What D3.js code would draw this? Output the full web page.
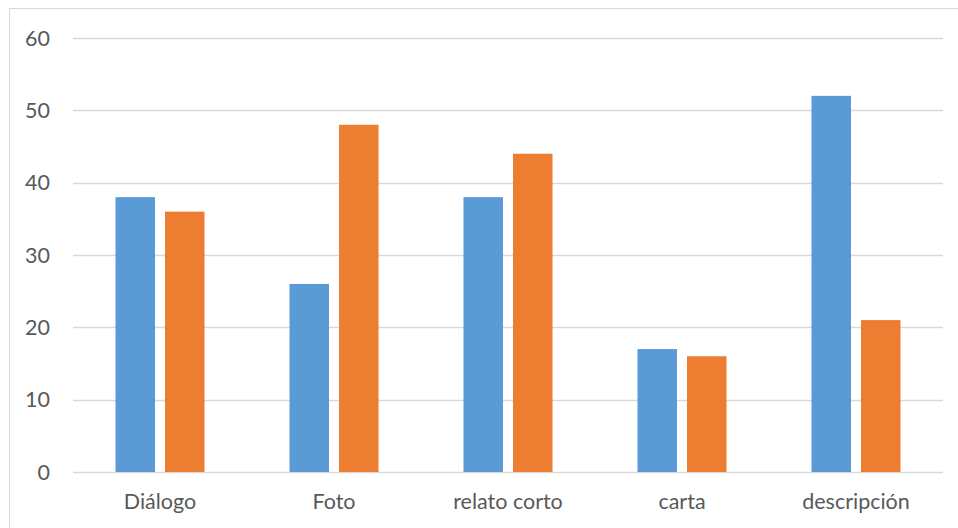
<!DOCTYPE html>
<html>
<head>
<meta charset="utf-8">
<script src="https://cdn.jsdelivr.net/npm/d3@7"></script>
<style>
  body { margin: 0; background: #fff; }
  svg text { font-family: Lato, "Open Sans", sans-serif; fill: #595959; }
</style>
</head>
<body>
<div id="chart"></div>
<script>
const categories = ["Diálogo", "Foto", "relato corto", "carta", "descripción"];
const series = ["Serie 1", "Serie 2"];
const serie1 = [38, 26, 38, 17, 52];
const serie2 = [36, 48, 44, 16, 21];
const yTicks = [0, 10, 20, 30, 40, 50, 60];
const colors = ["#5B9BD5", "#ED7D31"];

const data = categories.map((c, i) => ({ cat: c, values: [serie1[i], serie2[i]] }));

const svgWidth = 958;
const svgHeight = 528;
const margin = { top: 38, right: 15, bottom: 56, left: 73 };
const width = svgWidth - margin.left - margin.right;
const height = svgHeight - margin.top - margin.bottom;

const svg = d3.select("#chart").append("svg")
  .attr("width", svgWidth)
  .attr("height", svgHeight);

// chart frame
svg.append("rect")
  .attr("x", 9.5).attr("y", 8.5)
  .attr("width", 960).attr("height", 530)
  .attr("fill", "none")
  .attr("stroke", "#D9D9D9")
  .attr("stroke-width", 1);

const g = svg.append("g").attr("transform", `translate(${margin.left},${margin.top})`);

const x0 = d3.scaleBand().domain(categories).range([0, width]).padding(0);
const x1 = d3.scaleBand().domain(series).range([0, x0.bandwidth()])
  .paddingInner(0.202).paddingOuter(0.858);
const y = d3.scaleLinear().domain([0, 60]).range([height, 0]);

// gridlines
g.append("g")
  .selectAll("line")
  .data(yTicks)
  .join("line")
  .attr("x1", 0).attr("x2", width)
  .attr("y1", (d) => Math.round(y(d)) + 0.5)
  .attr("y2", (d) => Math.round(y(d)) + 0.5)
  .attr("stroke", "#D9D9D9")
  .attr("stroke-width", 1.3);

// y labels
g.append("g")
  .selectAll("text")
  .data(yTicks)
  .join("text")
  .attr("x", -23)
  .attr("y", (d) => y(d))
  .attr("dy", "0.35em")
  .attr("text-anchor", "end")
  .style("font-size", "21.5px")
  .text((d) => d);

// bars
g.append("g")
  .selectAll("g")
  .data(data)
  .join("g")
  .attr("transform", (d) => `translate(${x0(d.cat)},0)`)
  .selectAll("rect")
  .data((d) => d.values.map((v, i) => ({ s: series[i], v, i })))
  .join("rect")
  .attr("x", (d) => x1(d.s))
  .attr("y", (d) => y(d.v))
  .attr("width", x1.bandwidth())
  .attr("height", (d) => height - y(d.v))
  .attr("fill", (d) => colors[d.i]);

// x labels
g.append("g")
  .selectAll("text")
  .data(categories)
  .join("text")
  .attr("x", (d) => x0(d) + x0.bandwidth() / 2)
  .attr("y", height + 29)
  .attr("dy", "0.35em")
  .attr("text-anchor", "middle")
  .style("font-size", "21.5px")
  .text((d) => d);
</script>
</body>
</html>
